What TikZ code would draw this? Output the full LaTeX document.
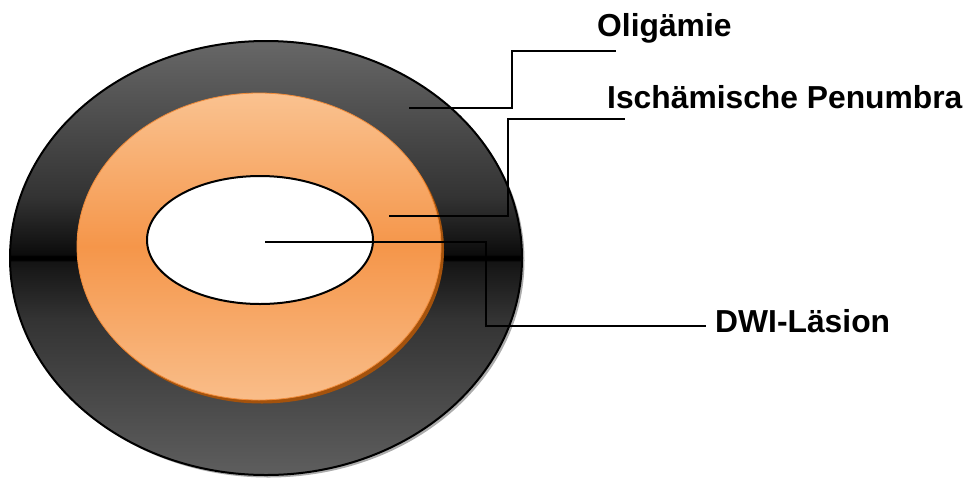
\documentclass[tikz,border=0pt]{standalone}
\usepackage{fontspec}
\setmainfont{Liberation Sans}
\definecolor{outerTop}{HTML}{676767}
\definecolor{outerMidHi}{HTML}{0C0C0C}
\definecolor{outerMidLo}{HTML}{141414}
\definecolor{outerBot}{HTML}{5E5E5E}
\definecolor{outerInner}{HTML}{333333}
\definecolor{orangeTop}{HTML}{FAC290}
\definecolor{orangeMid}{HTML}{F5964A}
\definecolor{orangeBot}{HTML}{F9BD89}
\definecolor{orangeEdge}{HTML}{F08A38}
\definecolor{orangeShadow}{HTML}{A4520C}
% dark ring: gray at the rim, nearly black towards a thin black equator
\pgfdeclareverticalshading{ringshade}{100bp}{%
  color(0bp)=(outerBot); color(25bp)=(outerBot);
  color(43bp)=(outerInner);
  color(49.6bp)=(outerMidLo); color(49.75bp)=(black);
  color(50.25bp)=(black); color(50.4bp)=(outerMidHi);
  color(57bp)=(outerInner);
  color(75bp)=(outerTop); color(100bp)=(outerTop)}
\tikzset{
  leader/.style={draw=black, line width=2pt},
  label/.style={font=\bfseries\fontsize{31.8}{38}\selectfont, anchor=base west, inner sep=0pt},
}
\begin{document}
\begin{tikzpicture}[x=1pt,y=-1pt]
  \useasboundingbox (0,0) rectangle (965,477);

  % outer zone (oligaemia) with soft drop shadow
  \fill[gray!65] (268.5,260.5) ellipse [x radius=256pt, y radius=217pt];
  \shade[shading=ringshade] (266,258) ellipse [x radius=256pt, y radius=217pt];
  \draw[line width=2pt] (266,258) ellipse [x radius=256pt, y radius=217pt];

  % penumbra with darker rim shadow
  \fill[orangeShadow] (262,250) ellipse [x radius=182pt, y radius=153.5pt];
  \shade[top color=orangeTop, bottom color=orangeBot, middle color=orangeMid]
    (259,246.5) ellipse [x radius=182pt, y radius=153.5pt];
  \draw[orangeEdge, line width=0.8pt] (259,246.5) ellipse [x radius=182pt, y radius=153.5pt];

  % core lesion
  \draw[fill=white, line width=2pt] (260,240) ellipse [x radius=113pt, y radius=64pt];

  % anchor points inside the zones and at the label ends
  \coordinate (oStart) at (409,108);
  \coordinate (oEnd) at (616,51);
  \coordinate (pStart) at (389,216);
  \coordinate (pEnd) at (625,119);
  \coordinate (dStart) at (265,242);
  \coordinate (dEnd) at (706,326);

  \node[label] (oLabel) at (597,36) {Oligämie};
  \node[label] (pLabel) at (607,108) {Ischämische Penumbra};
  \node[label] (dLabel) at (715,332) {DWI-Läsion};

  \draw[leader] (oStart) -- (512,108) |- (oEnd);
  \draw[leader] (pStart) -- (508,216) |- (pEnd);
  \draw[leader] (dStart) -- (486,242) |- (dEnd);
\end{tikzpicture}
\end{document}
